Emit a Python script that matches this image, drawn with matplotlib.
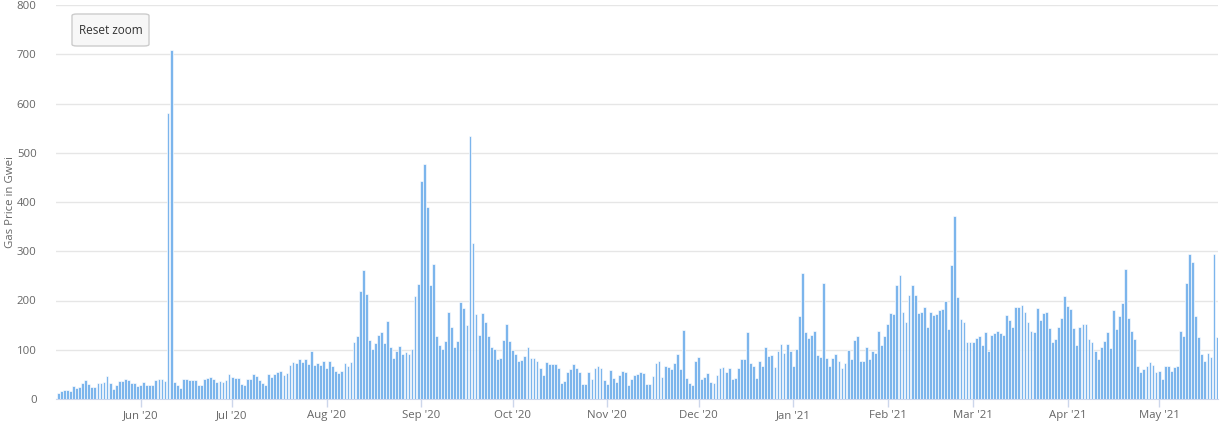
import pandas as pd
import matplotlib
matplotlib.use("Agg")
import matplotlib.pyplot as plt
import matplotlib.dates as mdates
from matplotlib.patches import FancyBboxPatch

# daily average gas price (Gwei), one value per day starting 5 May 2020
start_date = "2020-05-05"

gas_may_jul20 = [12, 16, 18, 18, 16, 27, 23, 25, 32, 39,
                 30, 25, 25, 33, 33, 34, 47, 33, 21, 28,
                 36, 36, 41, 38, 33, 32, 27, 29, 35, 29,
                 29, 29, 38, 40, 40, 36, 580, 708, 34, 28,
                 23, 41, 40, 39, 38, 38, 29, 29, 40, 43,
                 45, 41, 35, 36, 34, 38, 51, 45, 42, 42,
                 31, 29, 40, 40, 51, 46, 38, 32, 29, 50,
                 44, 51, 55, 56, 49, 53, 70, 76, 73, 81,
                 76, 81, 72, 97, 70, 74]

gas_jul_nov20 = [70, 77, 62, 78, 68, 57, 52, 57, 73, 66,
                 75, 116, 128, 220, 262, 214, 120, 101, 114, 130,
                 136, 114, 159, 105, 84, 97, 107, 92, 95, 91,
                 101, 210, 234, 443, 477, 389, 231, 275, 127, 110,
                 101, 118, 177, 146, 105, 118, 197, 185, 151, 535,
                 316, 172, 130, 174, 157, 127, 106, 101, 82, 84,
                 120, 152, 118, 99, 92, 78, 80, 87, 106, 84,
                 84, 78, 62, 49, 75, 72, 72, 72, 62, 32,
                 37, 54, 60, 72, 62, 54, 30, 31, 54, 41,
                 62, 67, 62, 39, 31, 58, 43, 35, 49]

gas_nov20_feb21 = [57, 54, 28, 41, 49, 51, 55, 52, 31, 31,
                   47, 73, 78, 45, 66, 64, 60, 74, 92, 60,
                   141, 43, 33, 28, 77, 86, 41, 45, 52, 35,
                   33, 49, 62, 64, 54, 62, 41, 43, 62, 82,
                   82, 137, 73, 67, 43, 78, 66, 106, 88, 89,
                   64, 97, 112, 93, 112, 97, 66, 101, 168, 256,
                   137, 123, 130, 139, 89, 86, 235, 84, 66, 84,
                   92, 78, 62, 73, 99, 82, 120, 128, 78, 78,
                   106, 82, 97, 93, 139, 110, 127, 152, 174, 172,
                   231, 251, 177, 157, 211, 232, 211, 174]

gas_feb_may21 = [177, 187, 147, 176, 170, 172, 180, 182, 199, 142,
                 272, 372, 208, 163, 157, 116, 116, 116, 123, 128,
                 110, 136, 97, 130, 135, 139, 133, 130, 170, 161,
                 147, 187, 187, 191, 176, 157, 139, 137, 185, 161,
                 174, 177, 144, 116, 122, 147, 165, 210, 189, 183,
                 144, 110, 146, 152, 152, 122, 116, 97, 82, 106,
                 118, 137, 103, 181, 142, 168, 194, 264, 164, 138,
                 122, 66, 54, 60, 66, 76, 69, 54, 57, 41,
                 66, 67, 57, 64, 66, 139, 128, 236, 295, 278,
                 168, 126, 92, 78, 93, 86, 295, 125]

gas = gas_may_jul20 + gas_jul_nov20 + gas_nov20_feb21 + gas_feb_may21
dates = pd.date_range(start_date, periods=len(gas), freq="D")

y_ticks = [0, 100, 200, 300, 400, 500, 600, 700, 800]

plt.rcParams['font.family'] = ['Open Sans', 'DejaVu Sans']

fig = plt.figure(figsize=(12.27, 4.25), dpi=100)
ax = fig.add_axes([56 / 1227, 26 / 425, 1162 / 1227, 394 / 425])

# white edge keeps a small gap between neighbouring days, like the original
ax.bar(dates, gas, width=0.92, color="#7cb5ec", edgecolor="white",
       linewidth=0.45, zorder=3)

ax.set_ylim(0, 800)
ax.set_yticks(y_ticks)
ax.set_xlim(mdates.date2num(dates[0]) - 0.75, mdates.date2num(dates[-1]) + 0.3)
ax.grid(axis="y", color="#e6e6e6", linewidth=1, zorder=0)

ax.xaxis.set_major_locator(mdates.MonthLocator())
ax.xaxis.set_major_formatter(mdates.DateFormatter("%b '%y"))

for s in ["top", "right", "left"]:
    ax.spines[s].set_visible(False)
ax.spines["bottom"].set_color("#ccd6eb")

ax.tick_params(axis="y", length=0, pad=14, labelsize=8.2, labelcolor="#666666")
ax.tick_params(axis="x", length=6, width=1, color="#ccd6eb", pad=2,
               labelsize=8.2, labelcolor="#666666")

ax.set_ylabel("Gas Price in Gwei", fontsize=8.2, color="#666666")
ax.yaxis.set_label_coords(-40 / 1162, 0.5)

# reset zoom button
btn = FancyBboxPatch((72 / 1227, 1 - 46 / 425), 77 / 1227, 32 / 425,
                     boxstyle="round,pad=0,rounding_size=0.004",
                     transform=fig.transFigure, facecolor="#f7f7f7",
                     edgecolor="#cccccc", linewidth=1, zorder=5)
fig.patches.append(btn)
fig.text(110.5 / 1227, 1 - 30 / 425, "Reset zoom", ha="center", va="center",
         fontsize=8.5, color="#333333", zorder=6)

fig.savefig("out.png", dpi=100)
